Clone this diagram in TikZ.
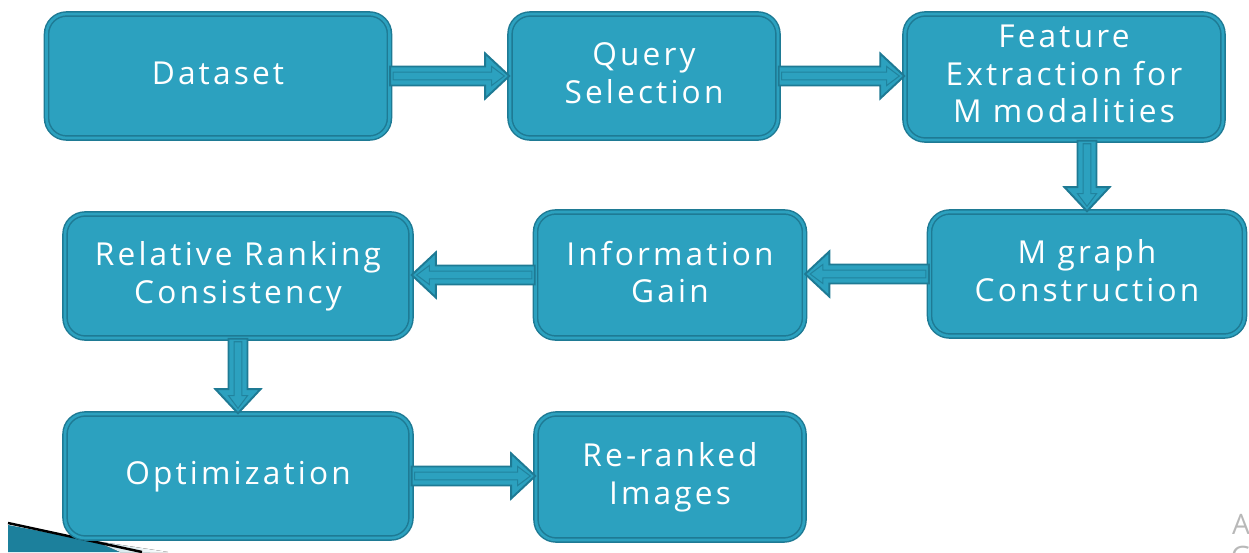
\documentclass[tikz,border=0pt]{standalone}
\usepackage{fontspec}
\setmainfont{Open Sans}[LetterSpace=10, Ligatures=NoCommon]
\usetikzlibrary{calc}

\definecolor{boxfill}{RGB}{44,161,191}
\definecolor{boxedge}{RGB}{30,122,148}
\definecolor{arrline}{RGB}{33,131,158}
\definecolor{wedge}{RGB}{28,128,156}

\tikzset{
  stage/.style={rectangle, rounded corners=0.4cm, fill=boxfill,
    draw=boxedge, line width=0.85pt, double=boxfill, double distance=1.5pt,
    text=white, align=center, inner sep=0pt, text depth=3.6pt,
    font=\fontsize{18}{21.5}\selectfont},
  flowbody/.style={fill=boxfill, draw=boxedge, line width=1.1pt, line join=miter},
  flowinner/.style={draw=arrline, line width=0.6pt, line join=miter},
  corner/.style={text=black!28, font=\fontsize{16}{18}\selectfont}
}

% block arrow from #1 to #2, with an inset outline
\newcommand{\flowarrow}[2]{%
  \path[flowbody] let \p1=(#1), \p2=(#2), \n1={atan2(\y2-\y1,\x2-\x1)},
      \n2={veclen(\x2-\x1,\y2-\y1)} in
    [shift={(\p1)}, rotate=\n1]
    (0pt,-5.4pt) -- ({\n2-13.7pt},-5.4pt) -- ({\n2-13.7pt},-12.8pt)
    -- ({\n2-0pt},0pt) -- ({\n2-13.7pt},12.8pt) -- ({\n2-13.7pt},5.4pt)
    -- (0pt,5.4pt) -- cycle;
  \path[flowinner] let \p1=(#1), \p2=(#2), \n1={atan2(\y2-\y1,\x2-\x1)},
      \n2={veclen(\x2-\x1,\y2-\y1)} in
    [shift={(\p1)}, rotate=\n1]
    (1.7pt,-2.2pt) -- ({\n2-10pt},-2.2pt) -- ({\n2-10pt},-5.4pt)
    -- ({\n2-2.8pt},0pt) -- ({\n2-10pt},5.4pt) -- ({\n2-10pt},2.2pt)
    -- (1.7pt,2.2pt) -- cycle;
}

\begin{document}
\begin{tikzpicture}[x=0.02cm,y=-0.02cm]
  \useasboundingbox (0,0) rectangle (1249,552);

  % corner swoosh
  \fill[wedge] (8,525) -- (150,552) -- (8,552) -- cycle;
  \fill[left color=wedge!25, right color=white] (95,541) -- (168,552) -- (120,552) -- cycle;
  \draw[black, line width=1.4pt] (8,523) -- (142,552);

  % stages
  \node[stage, minimum width=6.86cm, minimum height=2.48cm] (data) at (218,76) {Dataset};
  \node[stage, minimum width=5.36cm, minimum height=2.48cm] (query) at (644,76) {Query\\Selection};
  \node[stage, minimum width=6.36cm, minimum height=2.52cm] (feat) at (1064,77) {Feature\\Extraction for\\M modalities};
  \node[stage, minimum width=6.30cm, minimum height=2.48cm] (mgraph) at (1087,274) {M graph\\Construction};
  \node[stage, minimum width=5.38cm, minimum height=2.52cm] (info) at (670,275) {Information\\Gain};
  \node[stage, minimum width=6.92cm, minimum height=2.48cm] (rrc) at (238,276) {Relative Ranking\\Consistency};
  \node[stage, minimum width=6.92cm, minimum height=2.48cm] (opt) at (238,476) {Optimization};
  \node[stage, minimum width=5.36cm, minimum height=2.52cm] (rerank) at (670,477) {Re-ranked\\Images};

  % arrows
  \flowarrow{data.east}{query.west}
  \flowarrow{query.east}{query.east -| feat.west}
  \flowarrow{feat.south -| mgraph.north}{mgraph.north}
  \flowarrow{mgraph.west}{mgraph.west -| info.east}
  \flowarrow{info.west}{info.west -| rrc.east}
  \flowarrow{rrc.south}{opt.north}
  \flowarrow{opt.east}{opt.east -| rerank.west}

  % cut-off text at the right edge
  \begin{scope}
    \clip (0,0) rectangle (1249,552);
    \node[corner] (ca) at (1241,524) {A};
    \node[corner] (cg) at (1241,556) {G};
  \end{scope}
\end{tikzpicture}
\end{document}
